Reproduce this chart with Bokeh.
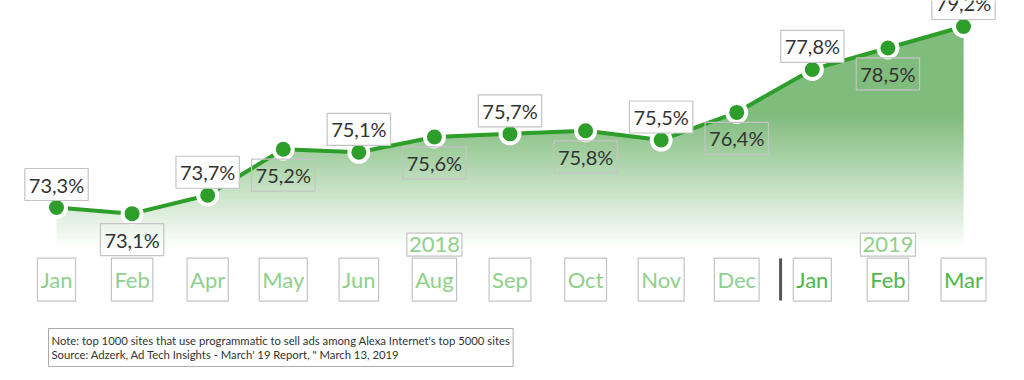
import numpy as np
from bokeh.plotting import figure
from bokeh.models import ColumnDataSource, Label
from bokeh.core.properties import value
from bokeh.embed import file_html
from bokeh.resources import INLINE

# ---- data ----
months = ["Jan", "Feb", "Apr", "May", "Jun", "Aug", "Sep", "Oct", "Nov", "Dec", "Jan", "Feb", "Mar"]
share = [73.3, 73.1, 73.7, 75.2, 75.1, 75.6, 75.7, 75.8, 75.5, 76.4, 77.8, 78.5, 79.2]
month_year = [2018] * 10 + [2019] * 3
years = ["2018", "2019"]
year_anchor = [5, 11]          # index of the month under which the year label sits
note_lines = [
    "Note: top 1000 sites that use programmatic to sell ads among Alexa Internet's top 5000 sites",
    "Source: Adzerk, Ad Tech Insights - March' 19 Report, \" March 13, 2019",
]

# ---- styling constants ----
FONT = value("Lato")
GREEN_LINE = "#2e9e2a"
GREEN_FILL = (128, 188, 124)
LIGHT_GREEN = "#8fd08b"
DARK_GREEN = "#4cb84a"
BORDER = "#c4c4c4"

W, H = 1010, 376
Y0, Y1 = 67.792, 80.047
X0, X1 = -0.741, 12.622
AREA_BOTTOM = 71.96
FULL_GREEN = 76.3
MONTH_Y = 70.95
YEAR_Y = 72.09

x = list(range(len(months)))
labels = [f"{v:.1f}%".replace(".", ",") for v in share]

p = figure(width=W, height=H, x_range=(X0, X1), y_range=(Y0, Y1),
           toolbar_location=None, output_backend="svg", min_border=0,
           x_axis_location=None, y_axis_location=None)
p.grid.visible = False
p.outline_line_color = None
p.background_fill_color = "white"
p.border_fill_color = "white"

# ---- gradient area (strips, then white cover above the line) ----
n = 90
top_area = max(share) + 0.05
edges = np.linspace(AREA_BOTTOM, top_area, n + 1)
cols = []
for i in range(n):
    mid = 0.5 * (edges[i] + edges[i + 1])
    s = np.clip((mid - AREA_BOTTOM) / (FULL_GREEN - AREA_BOTTOM), 0, 1)
    r, g, b = [int(round(255 * (1 - s) + c * s)) for c in GREEN_FILL]
    cols.append(f"#{r:02x}{g:02x}{b:02x}")
step = edges[1] - edges[0]
tops = list(edges[1:] + 0.5 * step)
tops[-1] = edges[-1]
p.quad(left=[x[0]] * n, right=[x[-1]] * n, bottom=edges[:-1], top=tops,
       fill_color=cols, line_color=None)
cover_x = [x[0] - 0.1, x[0] - 0.1] + x + [x[-1] + 0.1, x[-1] + 0.1]
cover_y = [Y1 + 1, share[0]] + share + [share[-1], Y1 + 1]
p.patch(cover_x, cover_y, fill_color="white", line_color="white", line_width=1.5)

# ---- line & points ----
src = ColumnDataSource(dict(x=x, y=share, label=labels))
p.line("x", "y", source=src, line_color=GREEN_LINE, line_width=4)
p.scatter("x", "y", source=src, size=19, fill_color=GREEN_LINE, line_color="white", line_width=4)

# ---- value labels ----
above = [i for i in x if i % 2 == 0]
below = [i for i in x if i % 2 == 1]
src_a = ColumnDataSource(dict(x=[x[i] for i in above], y=[share[i] for i in above],
                              t=[labels[i] for i in above]))
src_b = ColumnDataSource(dict(x=[x[i] for i in below], y=[share[i] for i in below],
                              t=[labels[i] for i in below]))
common = dict(text_font=FONT, text_font_size="20px", text_color="#333333",
              text_align="center", text_baseline="middle",
              border_line_color=BORDER, border_line_width=1.2, padding=(4, 4))
p.text("x", "y", text="t", source=src_a, y_offset=-23, background_fill_color="white", **common)
p.text("x", "y", text="t", source=src_b, y_offset=26, background_fill_color=None, **common)

# ---- month labels ----
msrc = ColumnDataSource(dict(x=x, y=[MONTH_Y] * len(x), t=months,
                             c=[LIGHT_GREEN if yy == 2018 else DARK_GREEN for yy in month_year]))
p.text("x", "y", text="t", source=msrc, text_color="c", text_font=FONT, text_font_size="22px",
       text_align="center", text_baseline="middle", border_line_color=BORDER,
       border_line_width=1.2, background_fill_color="white", padding=(3, 8))

ysrc = ColumnDataSource(dict(x=year_anchor, y=[YEAR_Y] * len(years), t=years))
p.text("x", "y", text="t", source=ysrc, text_color=LIGHT_GREEN, text_font=FONT,
       text_font_size="22px", text_align="center", text_baseline="middle",
       border_line_color=BORDER, border_line_width=1.2, background_fill_color="white",
       padding=(2, 4))

# divider between 2018 and 2019
p.segment(x0=[9.58], y0=[70.27], x1=[9.58], y1=[71.64], line_color="#555555", line_width=3)

# ---- note ----
note = Label(x=48, y=H - 328, x_units="screen", y_units="screen", text="\n".join(note_lines),
             text_font="Lato", text_font_size="11.3px", text_color="#333333",
             text_line_height=1.15,
             text_align="left", text_baseline="top",
             border_line_color="#aaaaaa", border_line_width=1, background_fill_color="white",
             padding=(3, 5))
p.add_layout(note)

open("out.html", "w").write(file_html(p, INLINE))
